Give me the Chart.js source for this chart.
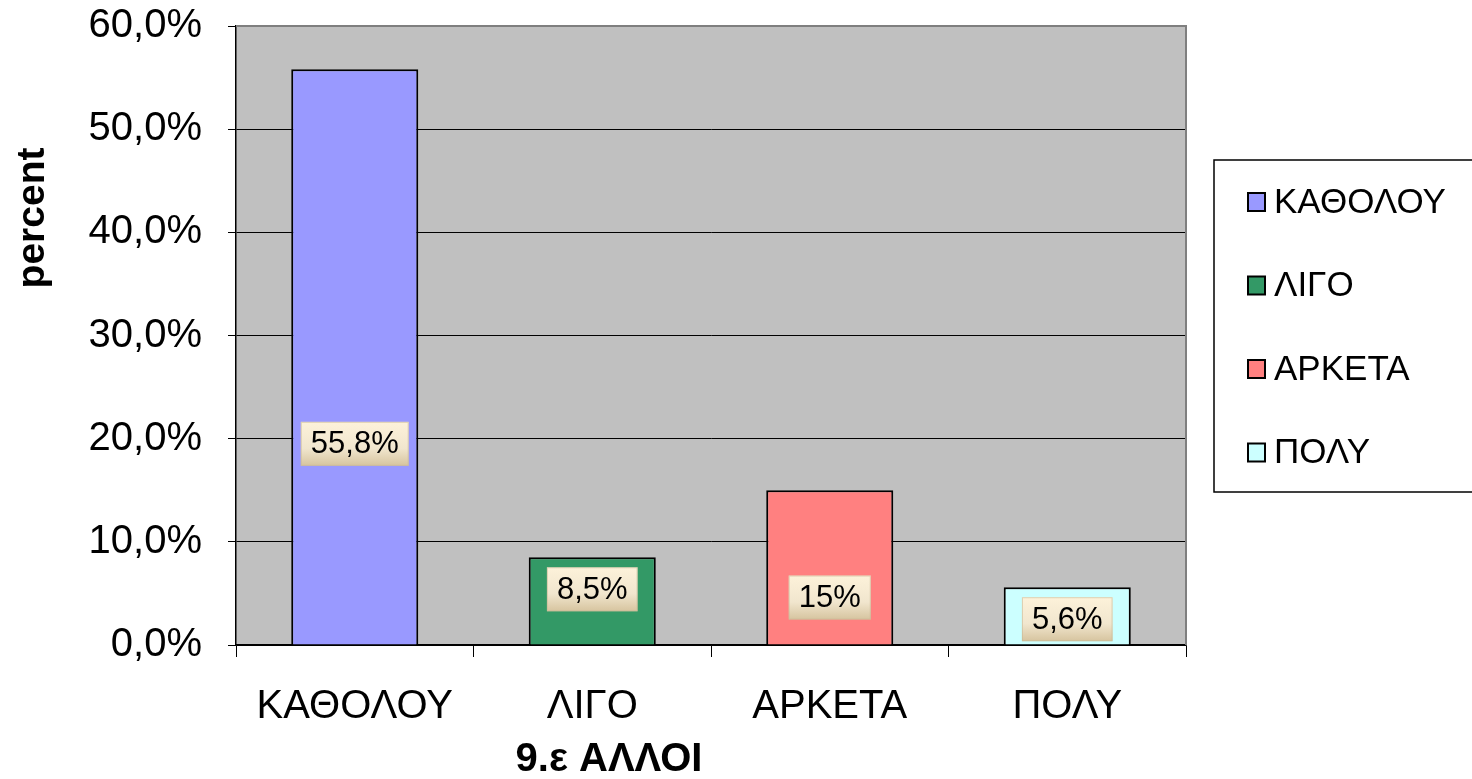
<!DOCTYPE html>
<html>
<head>
<meta charset="utf-8">
<script src="https://cdn.jsdelivr.net/npm/chart.js@4.4.1/dist/chart.umd.min.js"></script>
<style>
  html, body { margin: 0; padding: 0; background: #fff; }
  #wrap { width: 1472px; height: 779px; }
</style>
</head>
<body>
<div id="wrap"><canvas id="chart"></canvas></div>
<script>
// chart data
var categories = ['ΚΑΘΟΛΟΥ', 'ΛΙΓΟ', 'ΑΡΚΕΤΑ', 'ΠΟΛΥ'];
var values = [55.8, 8.5, 15, 5.6];
var valueLabels = ['55,8%', '8,5%', '15%', '5,6%'];
var labelAt = [19.5, 5.4, 4.6, 2.5]; // where the value boxes sit, in percent
var barColors = ['#9999FF', '#339966', '#FF8080', '#CCFFFF'];
var yTickLabels = ['0,0%', '10,0%', '20,0%', '30,0%', '40,0%', '50,0%', '60,0%'];
var xTitle = '9.ε ΑΛΛΟΙ';
var yTitle = 'percent';

var FONT = '"Liberation Sans", Arial, sans-serif';

// grey plot background and frame
var plotBackground = {
    id: 'plotBackground',
    beforeDraw: function (chart) {
        var a = chart.chartArea, ctx = chart.ctx;
        ctx.save();
        ctx.fillStyle = '#C0C0C0';
        ctx.fillRect(a.left, a.top, a.right - a.left, a.bottom - a.top);
        ctx.restore();
    },
    afterDraw: function (chart) {
        var a = chart.chartArea, ctx = chart.ctx;
        ctx.save();
        ctx.strokeStyle = '#7f7f7f';
        ctx.lineWidth = 2;
        ctx.beginPath();
        ctx.moveTo(a.left, a.top);
        ctx.lineTo(a.right, a.top);
        ctx.lineTo(a.right, a.bottom);
        ctx.stroke();
        ctx.restore();
    }
};

// beige boxes with the values
var valueBoxes = {
    id: 'valueBoxes',
    afterDatasetsDraw: function (chart) {
        var ctx = chart.ctx;
        var meta = chart.getDatasetMeta(0);
        var y = chart.scales.y;
        ctx.save();
        ctx.font = '31px ' + FONT;
        ctx.textAlign = 'center';
        ctx.textBaseline = 'middle';
        meta.data.forEach(function (bar, i) {
            var cy = y.getPixelForValue(labelAt[i]);
            var w = ctx.measureText(valueLabels[i]).width + 20;
            var h = 44;
            var x0 = bar.x - w / 2, y0 = cy - h / 2;
            var g = ctx.createLinearGradient(0, y0, 0, y0 + h);
            g.addColorStop(0, '#FDF2DA');
            g.addColorStop(0.6, '#F1E6CE');
            g.addColorStop(1, '#D6C49F');
            ctx.fillStyle = g;
            ctx.fillRect(x0, y0, w, h);
            ctx.strokeStyle = 'rgba(200,185,150,0.6)';
            ctx.lineWidth = 1;
            ctx.strokeRect(x0 + 0.5, y0 + 0.5, w - 1, h - 1);
            ctx.fillStyle = '#000';
            ctx.fillText(valueLabels[i], bar.x, cy + 1);
        });
        ctx.restore();
    }
};

// axis titles and boxed legend
var extras = {
    id: 'extras',
    afterDraw: function (chart) {
        var ctx = chart.ctx;
        ctx.save();
        ctx.fillStyle = '#000';
        ctx.textAlign = 'center';
        ctx.textBaseline = 'middle';
        ctx.font = 'bold 40px ' + FONT;
        ctx.fillText(xTitle, 609, 760);
        ctx.font = 'bold 39px ' + FONT;
        ctx.save();
        ctx.translate(33, 218);
        ctx.rotate(-Math.PI / 2);
        ctx.fillText(yTitle, 0, 0);
        ctx.restore();

        // legend
        ctx.strokeStyle = '#000';
        ctx.lineWidth = 1.5;
        ctx.strokeRect(1214, 160, 300, 332);
        ctx.font = '35px ' + FONT;
        ctx.textAlign = 'left';
        categories.forEach(function (c, i) {
            var cy = 202 + i * 83.5;
            ctx.fillStyle = barColors[i];
            ctx.fillRect(1248, cy - 9, 17, 18);
            ctx.lineWidth = 2;
            ctx.strokeRect(1248, cy - 9, 17, 18);
            ctx.fillStyle = '#000';
            ctx.fillText(c, 1274, cy + 1);
        });
        ctx.restore();
    }
};

new Chart(document.getElementById('chart').getContext('2d'), {
    type: 'bar',
    data: {
        labels: categories,
        datasets: [{
            data: values,
            backgroundColor: barColors,
            borderColor: '#000',
            borderWidth: 2,
            borderSkipped: 'bottom',
            categoryPercentage: 1,
            barPercentage: 0.535
        }]
    },
    options: {
        responsive: true,
        maintainAspectRatio: false,
        animation: false,
        devicePixelRatio: 1,
        layout: { padding: { top: 26, right: 286, left: 0, bottom: 0 } },
        plugins: {
            legend: { display: false },
            tooltip: { enabled: false }
        },
        scales: {
            x: {
                offset: true,
                grid: {
                    offset: true,
                    drawOnChartArea: false,
                    drawTicks: true,
                    tickLength: 12,
                    color: '#000'
                },
                border: { color: '#000', width: 1.5 },
                ticks: {
                    color: '#000',
                    padding: 26,
                    font: { family: FONT, size: 40 }
                },
                afterFit: function (scale) {
                    scale.height = 134;
                    scale.paddingLeft = 0;
                    scale.paddingRight = 0;
                }
            },
            y: {
                min: 0,
                max: 60,
                grid: {
                    color: '#000',
                    lineWidth: 1,
                    tickLength: 8
                },
                border: { color: '#000', width: 1.5 },
                ticks: {
                    stepSize: 10,
                    color: '#000',
                    padding: 26,
                    font: { family: FONT, size: 40 },
                    callback: function (v, i) { return yTickLabels[i]; }
                },
                afterFit: function (scale) {
                    scale.width = 236;
                    scale.paddingTop = 0;
                    scale.paddingBottom = 0;
                }
            }
        }
    },
    plugins: [plotBackground, valueBoxes, extras]
});
</script>
</body>
</html>
